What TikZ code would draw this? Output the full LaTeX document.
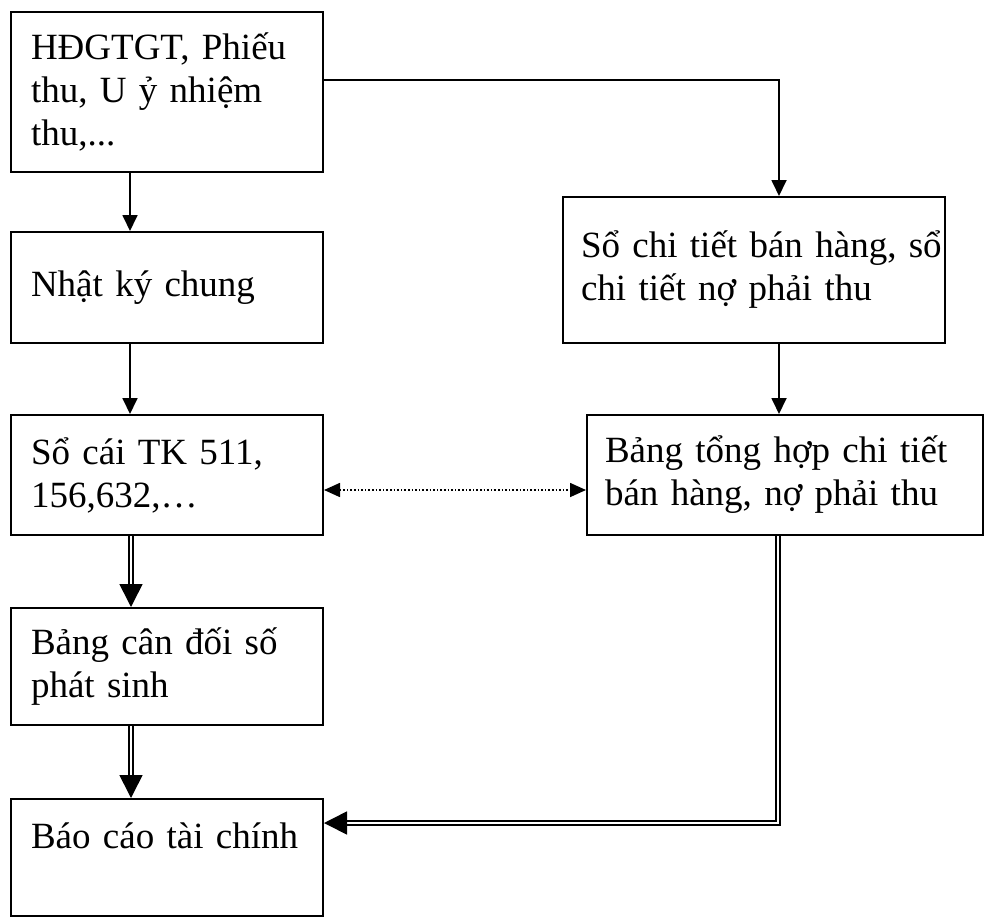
\documentclass[tikz,border=0pt]{standalone}
\usepackage{fontspec}
\setmainfont{Liberation Serif}
\usetikzlibrary{arrows.meta}

\begin{document}
\begin{tikzpicture}[x=1pt,y=-1pt,
  box/.style={draw, line width=2pt, inner xsep=20pt, inner ysep=0pt, align=left,
    font=\fontsize{37}{43}\selectfont},
  arr/.style={line width=1.8pt, -{Triangle[length=16pt,width=15pt]}},
  dbl/.style={double, line width=1.6pt, double distance=2.6pt,
    -{Triangle[length=23pt,width=23pt,fill=black]}},
  dots/.style={dotted, line width=1.6pt,
    {Triangle[length=16pt,width=14pt]}-{Triangle[length=16pt,width=14pt]}}]
\useasboundingbox (0,0) rectangle (990,918);

%colonne gauche
\node[box, text width=272pt, minimum height=160pt] (hd) at (167,92) {HĐGTGT, Phiếu\\thu, U ỷ nhiệm\\thu,...};
\node[box, text width=272pt, minimum height=111pt] (nkc) at (167,287.5) {Nhật ký chung};
\node[box, text width=272pt, minimum height=120pt] (sc) at (167,475) {Sổ cái TK 511,\\156,632,…};
\node[box, text width=272pt, minimum height=117pt] (bcd) at (167,666.5) {Bảng cân đối số\\phát sinh};
\node[box, text width=272pt, minimum height=117pt] (bctc) at (167,857.5) {Báo cáo tài chính\\\mbox{}};

%colonne droite
\node[box, inner xsep=18pt, text width=346pt, minimum height=146pt] (sct) at (754,270) {\mbox{Sổ chi tiết bán hàng, sổ}\\\mbox{chi tiết nợ phải thu}};
\node[box, inner xsep=18pt, text width=360pt, minimum height=120pt] (bth) at (785,475) {Bảng tổng hợp chi tiết\\bán hàng, nợ phải thu};

%flèches simples
\draw[arr] ([xshift=-37pt]hd.south) -- ([xshift=-37pt]nkc.north);
\draw[arr] ([xshift=-37pt]nkc.south) -- ([xshift=-37pt]sc.north);
\draw[arr] ([yshift=12pt]hd.east) -| ([xshift=25pt]sct.north);
\draw[arr] ([xshift=25pt]sct.south) -- ([xshift=-6pt]bth.north);

%flèches doubles
\draw[dbl] ([xshift=-36pt]sc.south) -- ([xshift=-36pt]bcd.north);
\draw[dbl] ([xshift=-36pt]bcd.south) -- ([xshift=-36pt]bctc.north);
\draw[dbl] ([xshift=-7pt]bth.south) |- ([yshift=34.5pt]bctc.east);

%pointillés
\draw[dots] ([yshift=-15pt]sc.east) -- ([yshift=-15pt]bth.west);
\end{tikzpicture}
\end{document}
